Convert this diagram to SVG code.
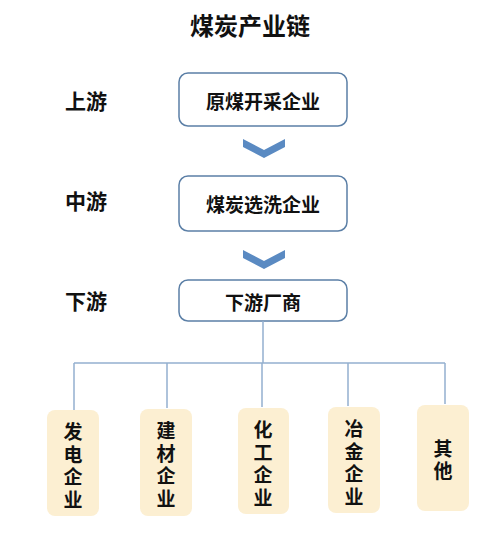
<svg xmlns="http://www.w3.org/2000/svg" width="500" height="545" viewBox="0 0 500 545">
<style>
text{font-family:"Noto Sans CJK SC","Liberation Sans",sans-serif;font-weight:bold;fill:#111;text-anchor:middle;dominant-baseline:central}
.box{fill:#fff;stroke:#5b7fa6;stroke-width:1.5}
.leaf{fill:#fcefd2;stroke:none}
.ln{stroke:#94b0cf;stroke-width:1.5;fill:none}
.chev{fill:#5a8ac2}
.lbl{font-size:21px}
.t{font-size:19px}
.v{font-size:19px}
</style>
<rect width="500" height="545" fill="#fff"/>
<text x="250" y="24" font-size="24">煤炭产业链</text>
<text class="lbl" x="86" y="100">上游</text>
<text class="lbl" x="86" y="200">中游</text>
<text class="lbl" x="86" y="300">下游</text>
<g id="n1"><rect class="box" x="179" y="73" width="168" height="53" rx="9"/><text class="t" x="263" y="100">原煤开采企业</text></g>
<g id="n2"><rect class="box" x="179" y="176" width="168" height="55" rx="9"/><text class="t" x="263" y="203">煤炭选洗企业</text></g>
<g id="n3"><rect class="box" x="179" y="280" width="168" height="41" rx="9"/><text class="t" x="263" y="301">下游厂商</text></g>
<g id="connectors">
<path class="chev" d="M243,139 L264,150 L285,139 L285,147 L264,158 L243,147 Z"/>
<path class="chev" d="M243,250 L264,261 L285,250 L285,258 L264,269 L243,258 Z"/>
<path class="ln" d="M263,321 V363 M74,363 H445 M74,363 V410 M167,363 V408 M262,363 V407 M348,363 V406 M445,363 V404"/>
</g>
<g id="n4"><rect class="leaf" x="47" y="410" width="52" height="106" rx="8"/><text class="v"><tspan x="73" y="430">发</tspan><tspan x="73" y="452.5">电</tspan><tspan x="73" y="475">企</tspan><tspan x="73" y="497.5">业</tspan></text></g>
<g id="n5"><rect class="leaf" x="140" y="409" width="52" height="107" rx="8"/><text class="v"><tspan x="166" y="429">建</tspan><tspan x="166" y="451.5">材</tspan><tspan x="166" y="474">企</tspan><tspan x="166" y="496.5">业</tspan></text></g>
<g id="n6"><rect class="leaf" x="238" y="408" width="51" height="106" rx="8"/><text class="v"><tspan x="263" y="428">化</tspan><tspan x="263" y="450.5">工</tspan><tspan x="263" y="473">企</tspan><tspan x="263" y="495.5">业</tspan></text></g>
<g id="n7"><rect class="leaf" x="328" y="407" width="52" height="106" rx="8"/><text class="v"><tspan x="354" y="427">冶</tspan><tspan x="354" y="449.5">金</tspan><tspan x="354" y="472">企</tspan><tspan x="354" y="494.5">业</tspan></text></g>
<g id="n8"><rect class="leaf" x="417" y="405" width="52" height="106" rx="8"/><text class="v"><tspan x="443" y="447">其</tspan><tspan x="443" y="469">他</tspan></text></g>
</svg>
